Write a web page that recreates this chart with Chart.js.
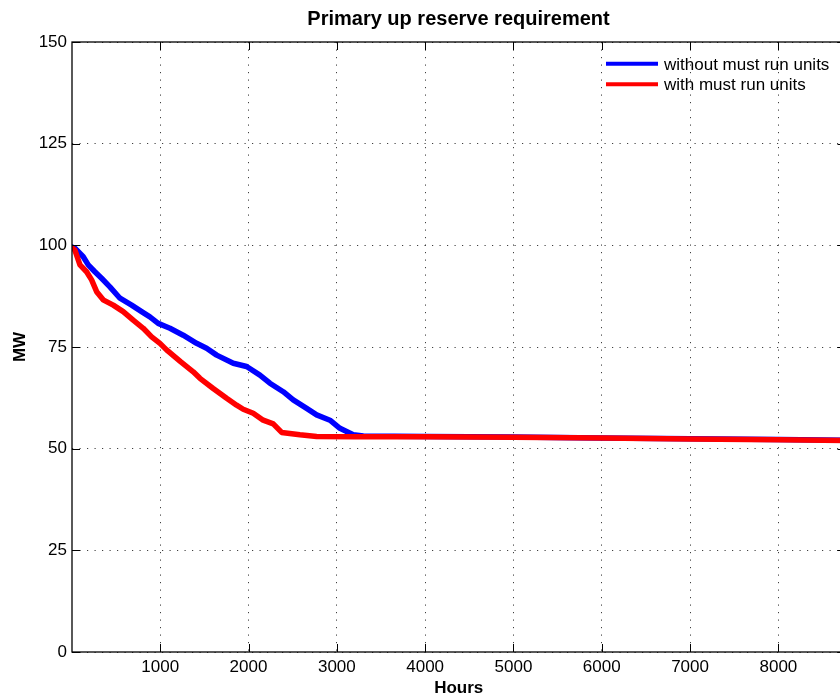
<!DOCTYPE html>
<html>
<head>
<meta charset="utf-8">
<script src="https://cdn.jsdelivr.net/npm/chart.js@4/dist/chart.umd.min.js"></script>
<style>
  html, body { margin: 0; padding: 0; background: #fff; overflow: hidden; width: 840px; height: 697px; }
  canvas { display: block; }
</style>
</head>
<body>
<canvas id="c" width="917" height="697"></canvas>
<script>
// ---- data ----
const titleText = 'Primary up reserve requirement';
const xTitle = 'Hours';
const yTitle = 'MW';
const xTicks = [1000, 2000, 3000, 4000, 5000, 6000, 7000, 8000];
const yTicks = [0, 25, 50, 75, 100, 125, 150];

const seriesNames = ['without must run units', 'with must run units'];

const hoursWithout = [1, 34, 128, 185, 260, 336, 430, 544, 676, 789, 883, 977, 1110, 1260, 1412, 1525, 1639, 1827, 1978, 2129, 2242, 2393, 2506, 2658, 2771, 2922, 3035, 3186, 3300, 4000, 5000, 6000, 7000, 8000, 8760];
const mwWithout    = [99.6, 99.3, 97.2, 95.2, 93.5, 91.9, 89.8, 87.0, 85.3, 83.7, 82.4, 80.8, 79.6, 77.9, 75.9, 74.7, 73.0, 71.0, 70.2, 68.1, 66.1, 64.0, 62.0, 59.9, 58.3, 57.0, 55.0, 53.4, 53.1, 53.0, 52.85, 52.65, 52.45, 52.25, 52.05];

const hoursWith = [1, 34, 91, 166, 223, 280, 354, 468, 581, 694, 808, 903, 997, 1072, 1230, 1374, 1450, 1600, 1752, 1865, 1940, 2053, 2166, 2280, 2375, 2582, 2771, 3200, 4000, 5000, 6000, 7000, 8000, 8760];
const mwWith    = [99.4, 98.8, 95.2, 93.5, 91.5, 88.6, 86.6, 85.3, 83.7, 81.6, 79.6, 77.5, 75.9, 74.3, 71.4, 68.9, 67.3, 64.8, 62.4, 60.7, 59.7, 58.7, 57.0, 56.1, 54.0, 53.4, 53.0, 52.95, 52.9, 52.8, 52.6, 52.4, 52.2, 52.0];

const seriesColors = ['#0000ff', '#ff0000'];

// ---- chart ----
const FONT = 'Liberation Sans, Arial, Helvetica, sans-serif';

function toPoints(xs, ys) { return xs.map((x, i) => ({ x: x, y: ys[i] })); }

const decor = {
  id: 'decor',
  afterDatasetsDraw(chart) {
    const ctx = chart.ctx;
    const a = chart.chartArea;
    const xs = chart.scales.x, ys = chart.scales.y;
    ctx.save();
    // inward tick marks
    ctx.strokeStyle = '#000';
    ctx.lineWidth = 1;
    ctx.beginPath();
    xTicks.forEach(v => {
      const px = Math.round(xs.getPixelForValue(v)) + 0.5;
      ctx.moveTo(px, a.bottom); ctx.lineTo(px, a.bottom - 8);
      ctx.moveTo(px, a.top); ctx.lineTo(px, a.top + 8);
    });
    yTicks.forEach(v => {
      const py = Math.round(ys.getPixelForValue(v)) + 0.5;
      ctx.moveTo(a.left, py); ctx.lineTo(a.left + 8, py);
      ctx.moveTo(a.right, py); ctx.lineTo(a.right - 8, py);
    });
    ctx.stroke();
    // axes box
    ctx.lineWidth = 1.3;
    ctx.strokeRect(a.left, a.top, a.right - a.left, a.bottom - a.top);

    // legend (inside plot, top right)
    const lx0 = a.left + 534, lx1 = a.left + 586, tx = a.left + 592;
    const rows = [63.8, 84.2];
    ctx.font = '17px ' + FONT;
    ctx.textBaseline = 'middle';
    ctx.textAlign = 'left';
    seriesNames.forEach((name, i) => {
      const y = rows[i];
      ctx.strokeStyle = seriesColors[i];
      ctx.lineWidth = 4;
      ctx.beginPath();
      ctx.moveTo(lx0, y); ctx.lineTo(lx1, y);
      ctx.stroke();
      ctx.fillStyle = '#000';
      ctx.fillText(name, tx, y + 1.5);
    });
    ctx.restore();
  }
};

new Chart(document.getElementById('c'), {
  type: 'line',
  data: {
    datasets: [
      { label: seriesNames[0], data: toPoints(hoursWithout, mwWithout), borderColor: seriesColors[0],
        backgroundColor: seriesColors[0], borderWidth: 5.5, pointRadius: 0, tension: 0, fill: false, order: 1,
        borderJoinStyle: 'round', borderCapStyle: 'round' },
      { label: seriesNames[1], data: toPoints(hoursWith, mwWith), borderColor: seriesColors[1],
        backgroundColor: seriesColors[1], borderWidth: 5.5, pointRadius: 0, tension: 0, fill: false, order: 0,
        borderJoinStyle: 'round', borderCapStyle: 'round' }
    ]
  },
  options: {
    responsive: false,
    animation: false,
    events: [],
    layout: { padding: 0 },
    plugins: {
      legend: { display: false },
      tooltip: { enabled: false },
      title: {
        display: true, text: titleText, color: '#000',
        font: { family: FONT, size: 20, weight: 'bold', lineHeight: 1.2 },
        padding: { top: 7.5, bottom: 10.5 }
      }
    },
    scales: {
      x: {
        type: 'linear', position: 'bottom', min: 1, max: 8760,
        afterBuildTicks: s => { s.ticks = xTicks.map(v => ({ value: v })); },
        ticks: { color: '#000', font: { family: FONT, size: 17 }, padding: 5, maxRotation: 0, autoSkip: false,
                 callback: v => String(v) },
        grid: { color: 'rgba(0,0,0,0.75)', lineWidth: 1, drawTicks: false },
        border: { display: false, dash: [1.2, 6.3] },
        title: { display: true, text: xTitle, color: '#000',
                 font: { family: FONT, size: 17, weight: 'bold', lineHeight: 1 }, padding: 0 },
        afterFit: s => { s.height = 45; }
      },
      y: {
        type: 'linear', position: 'left', min: 0, max: 150,
        afterBuildTicks: s => { s.ticks = yTicks.map(v => ({ value: v })); },
        ticks: { color: '#000', font: { family: FONT, size: 17 }, padding: 5, callback: v => String(v) },
        grid: { color: 'rgba(0,0,0,0.75)', lineWidth: 1, drawTicks: false },
        border: { display: false, dash: [1.2, 6.3] },
        title: { display: true, text: yTitle, color: '#000',
                 font: { family: FONT, size: 17, weight: 'bold', lineHeight: 1 }, padding: { top: 11.5, bottom: 0 } },
        afterFit: s => { s.width = 72; }
      },
      y2: {
        type: 'linear', position: 'right', min: 0, max: 150, display: true,
        grid: { display: false, drawTicks: false }, border: { display: false },
        ticks: { display: false },
        afterFit: s => { s.width = 71.5; }
      }
    }
  },
  plugins: [decor]
});
</script>
</body>
</html>
